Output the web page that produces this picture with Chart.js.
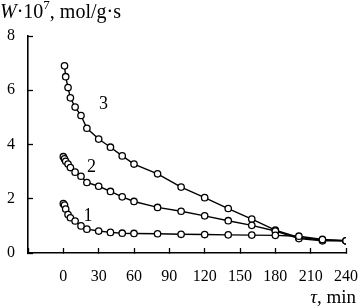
<!DOCTYPE html>
<html>
<head>
<meta charset="utf-8">
<script src="https://cdn.jsdelivr.net/npm/chart.js@4/dist/chart.umd.min.js"></script>
<style>
  html, body { margin: 0; padding: 0; background: #fff; }
  canvas { display: block; }
</style>
</head>
<body>
<canvas id="rateChart" width="358" height="308"></canvas>
<script>
// time points (min)
const timesA = [0, 1, 2, 4, 6, 10, 15, 20, 30, 40, 50, 60, 80, 100, 120, 140, 160, 180, 200, 220, 240];
const timesB = [1, 2, 4, 6, 10, 15, 20, 30, 40, 50, 60, 80, 100, 120, 140, 160, 180, 200, 220, 240];

// rate W*10^7, mol/g*s
const rate1 = [1.82, 1.77, 1.62, 1.42, 1.3, 1.18, 1.0, 0.88, 0.81, 0.76, 0.73, 0.72, 0.71, 0.69, 0.68, 0.67, 0.66, 0.65, 0.62, 0.5, 0.45];
const rate2 = [3.55, 3.47, 3.38, 3.28, 3.15, 2.98, 2.83, 2.6, 2.46, 2.27, 2.07, 1.9, 1.68, 1.54, 1.37, 1.19, 1.02, 0.81, 0.53, 0.45, 0.45];
const rate3 = [6.9, 6.5, 6.1, 5.72, 5.38, 5.07, 4.6, 4.2, 3.9, 3.58, 3.28, 2.92, 2.43, 2.04, 1.64, 1.25, 0.84, 0.57, 0.48, 0.45];

const curveNames = ['1', '2', '3'];
const curveLabelAt = [[21, 1.36], [24, 3.17], [34, 5.5]];

const serif = "'Liberation Serif', 'Times New Roman', serif";

function toPoints(xs, ys) {
    return xs.map(function(x, i) { return { x: x, y: ys[i] }; });
}

function series(xs, ys) {
    return {
        data: toPoints(xs, ys),
        showLine: true,
        borderColor: '#000',
        borderWidth: 1.4,
        pointRadius: 3.2,
        pointBackgroundColor: '#fff',
        pointBorderColor: '#000',
        pointBorderWidth: 1.3,
        tension: 0
    };
}

// titles and curve numbers
const textPlugin = {
    id: 'texts',
    afterDraw: function(chart) {
        const c = chart.ctx;
        const xs = chart.scales.x, ys = chart.scales.y;
        c.save();
        c.fillStyle = '#000';
        c.textBaseline = 'alphabetic';
        c.textAlign = 'left';

        // y title
        let x = 0;
        const base = 18;
        c.font = 'italic 20px ' + serif;
        c.fillText('W', x, base);
        x += c.measureText('W').width;
        c.font = '20px ' + serif;
        c.fillText('·10', x, base);
        x += c.measureText('·10').width;
        c.font = '13px ' + serif;
        c.fillText('7', x, base - 9);
        x += c.measureText('7').width;
        c.font = '20px ' + serif;
        c.fillText(', mol/g·s', x, base);

        // x title
        c.textAlign = 'right';
        c.font = '19px ' + serif;
        const rest = ', min';
        c.fillText(rest, 356, 303);
        const rw = c.measureText(rest).width;
        c.font = 'italic 19px ' + serif;
        c.fillText('τ', 356 - rw, 303);

        // curve labels
        c.textAlign = 'center';
        c.textBaseline = 'middle';
        c.font = '18px ' + serif;
        curveNames.forEach(function(name, i) {
            c.fillText(name, xs.getPixelForValue(curveLabelAt[i][0]), ys.getPixelForValue(curveLabelAt[i][1]));
        });
        c.restore();
    }
};

const ctx = document.getElementById('rateChart').getContext('2d');

new Chart(ctx, {
    type: 'scatter',
    data: {
        datasets: [series(timesA, rate1), series(timesA, rate2), series(timesB, rate3)]
    },
    options: {
        responsive: false,
        animation: false,
        layout: { padding: { top: 36, right: 12, bottom: 0, left: 0 } },
        plugins: {
            legend: { display: false },
            tooltip: { enabled: false }
        },
        scales: {
            x: {
                type: 'linear',
                min: -30,
                max: 240,
                afterFit: function(scale) {
                    scale.height = 55;
                    scale.paddingRight = 0;
                    scale.paddingLeft = 0;
                },
                ticks: {
                    stepSize: 30,
                    padding: 19,
                    maxRotation: 0,
                    autoSkip: false,
                    color: '#000',
                    font: { family: serif, size: 16 },
                    callback: function(v) { return v < 0 ? '' : v; }
                },
                grid: {
                    drawOnChartArea: false,
                    tickLength: -5,
                    tickColor: '#000',
                    tickWidth: 1.3
                },
                border: { color: '#000', width: 1.6 }
            },
            y: {
                min: 0,
                max: 8,
                afterFit: function(scale) { scale.width = 28; },
                ticks: {
                    stepSize: 2,
                    padding: 18,
                    color: '#000',
                    font: { family: serif, size: 16 }
                },
                grid: {
                    drawOnChartArea: false,
                    tickLength: -5,
                    tickColor: '#000',
                    tickWidth: 1.3
                },
                border: { color: '#000', width: 1.6 }
            }
        }
    },
    plugins: [textPlugin]
});
</script>
</body>
</html>
